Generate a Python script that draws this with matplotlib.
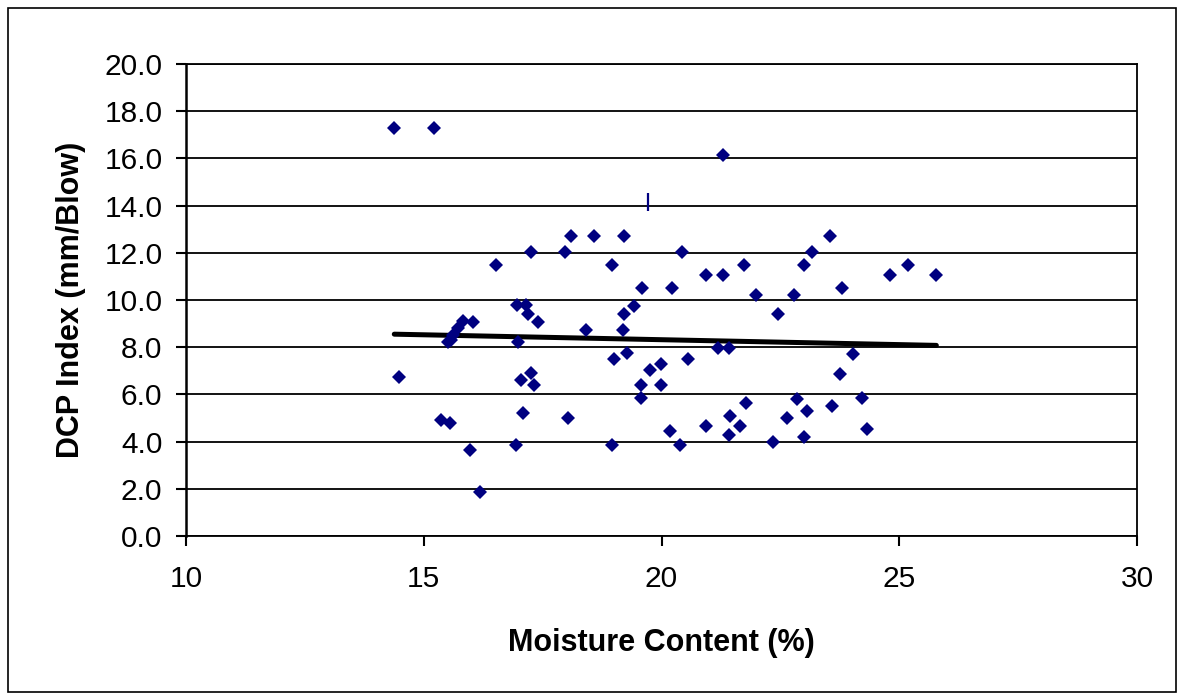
import numpy as np
import matplotlib
matplotlib.use("Agg")
import matplotlib.pyplot as plt
from matplotlib.patches import Rectangle

# moisture content (%) and DCP index (mm/blow)
moisture = [14.38, 15.22, 21.30, 16.51, 17.25, 17.98, 18.09, 18.58, 19.22, 18.96,
            20.44, 20.93, 21.30, 21.73, 23.00, 23.16, 23.54, 24.81, 25.19, 25.78,
            19.59, 20.23, 23.80, 21.99, 22.79, 16.97, 17.16, 17.19, 17.40, 19.43,
            19.22, 22.46, 15.83, 16.04, 15.72, 15.62, 15.57, 15.50, 16.98, 18.42,
            19.19, 21.18, 21.41, 19.01, 19.27, 20.55, 19.76, 19.98, 24.02, 23.75,
            14.47, 17.04, 17.26, 17.31, 19.56, 19.98, 19.56, 22.84, 24.22, 21.77,
            23.59, 23.05, 17.08, 21.45, 15.37, 15.55, 18.04, 22.63, 20.93, 21.66,
            24.33, 20.17, 21.41, 23.00, 22.35, 15.98, 16.93, 18.96, 20.38, 16.19]
dcp = [17.3, 17.3, 16.15, 11.5, 12.05, 12.05, 12.7, 12.7, 12.7, 11.5,
       12.05, 11.05, 11.05, 11.5, 11.5, 12.05, 12.7, 11.05, 11.5, 11.05,
       10.5, 10.5, 10.5, 10.2, 10.2, 9.8, 9.8, 9.4, 9.05, 9.75,
       9.4, 9.4, 9.1, 9.05, 8.8, 8.5, 8.3, 8.2, 8.2, 8.75,
       8.75, 7.95, 7.95, 7.5, 7.75, 7.5, 7.05, 7.3, 7.7, 6.85,
       6.75, 6.6, 6.9, 6.4, 6.4, 6.4, 5.85, 5.8, 5.85, 5.65,
       5.5, 5.3, 5.2, 5.1, 4.9, 4.8, 5.0, 5.0, 4.65, 4.65,
       4.55, 4.45, 4.3, 4.2, 4.0, 3.65, 3.85, 3.85, 3.85, 1.85]

# the lone dash marker above the cloud
dash_x = [19.71]
dash_y = [14.17]

x_ticks = [10, 15, 20, 25, 30]
y_ticks = np.arange(0, 22, 2)

plt.rcParams['font.family'] = ['Liberation Sans', 'DejaVu Sans']

fig = plt.figure(figsize=(11.83, 7.0), dpi=100)
# outer chart border
fig.patches.append(Rectangle((8 / 1183, 8 / 700), 1168 / 1183, 684 / 700,
                             transform=fig.transFigure, fill=False,
                             edgecolor='black', linewidth=1.2))

ax = fig.add_axes([186 / 1183, 1 - 536 / 700, 951 / 1183, 472 / 700])

# linear trend line over the data range
m, b = np.polyfit(moisture, dcp, 1)
xs = np.array([min(moisture), max(moisture)])
ax.plot(xs, m * xs + b, color='black', linewidth=3.6, solid_capstyle='round', zorder=3)

ax.plot(moisture, dcp, linestyle='none', marker='D', markersize=7.5,
        color='#000080', markeredgewidth=0, zorder=4)
ax.plot(dash_x, dash_y, linestyle='none', marker='|', markersize=13,
        color='#000080', markeredgewidth=1.6, zorder=4)

ax.set_xlim(10, 30)
ax.set_ylim(0, 20)
ax.set_xticks(x_ticks)
ax.set_yticks(y_ticks)
ax.set_yticklabels(['%.1f' % v for v in y_ticks])
ax.yaxis.grid(True, color='black', linewidth=1.3)
ax.set_axisbelow(True)
for s in ax.spines.values():
    s.set_linewidth(1.3)
ax.spines['left'].set_linewidth(1.8)
ax.tick_params(axis='both', direction='out', length=7, width=1.5, labelsize=21.5)
ax.tick_params(axis='y', pad=10)
ax.tick_params(axis='x', pad=14)

ax.set_xlabel('Moisture Content (%)', fontsize=22, fontweight='bold', labelpad=25)
ax.set_ylabel('DCP Index (mm/Blow)', fontsize=22, fontweight='bold', labelpad=13)

fig.savefig('out.png', dpi=100)
